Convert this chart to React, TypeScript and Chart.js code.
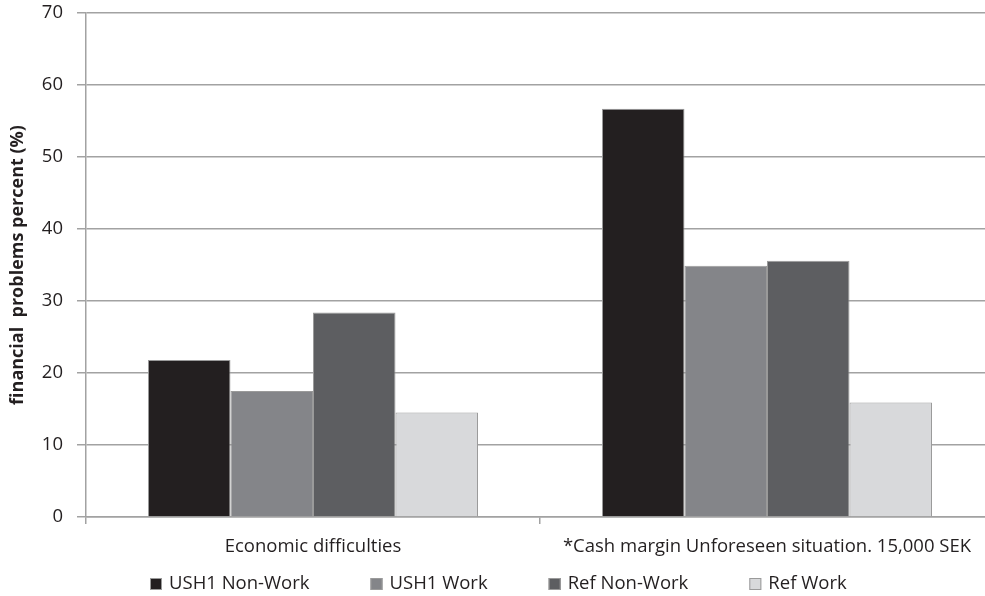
import { useEffect, useRef } from "react";
import { Chart, registerables } from "chart.js";

Chart.register(...registerables);

// Categories along the x axis
const categories = [
  "Economic difficulties",
  "*Cash margin Unforeseen situation. 15,000 SEK",
];

// Series (percent)
const seriesNames = ["USH1 Non-Work", "USH1 Work", "Ref Non-Work", "Ref Work"];
const ush1NonWork = [21.8, 56.7];
const ush1Work = [17.5, 34.9];
const refNonWork = [28.4, 35.6];
const refWork = [14.5, 15.9];
const seriesColors = ["#231f20", "#848589", "#5d5e61", "#d8d9db"];

// Y axis range
const yMin = 0;
const yMax = 70;
const yStep = 10;
const yTitle = "financial  problems percent (%)";

const FONT = "'Open Sans', 'DejaVu Sans', sans-serif";
const TEXT = "#231f20";
const GRID = "#a2a2a2";
const CANVAS_W = 997;
const CANVAS_H = 596;
const LABEL_SIZE = 18.5;

// Legend row drawn under the category labels
const bottomLegend = {
  id: "bottomLegend",
  afterDraw(chart: any) {
    const ctx: CanvasRenderingContext2D = chart.ctx;
    ctx.save();
    ctx.font = `${LABEL_SIZE}px ${FONT}`;
    const box = 12;
    const textGap = 7;
    const itemGap = 61;
    const items = chart.data.datasets.map((ds: any) => ({
      label: ds.label as string,
      color: ds.backgroundColor as string,
      w: ctx.measureText(ds.label).width,
    }));
    const total =
      items.reduce((s: number, it: any) => s + box + textGap + it.w, 0) +
      itemGap * (items.length - 1);
    let x = Math.round(chart.width / 2 - total / 2);
    const y = chart.height - 12;
    ctx.textBaseline = "middle";
    ctx.textAlign = "left";
    for (const it of items) {
      ctx.fillStyle = it.color;
      ctx.fillRect(x, y - box / 2, box, box);
      ctx.strokeStyle = "#9a9a9a";
      ctx.lineWidth = 1;
      ctx.strokeRect(x + 0.5, y - box / 2 + 0.5, box - 1, box - 1);
      ctx.fillStyle = TEXT;
      ctx.fillText(it.label, x + box + textGap, y);
      x += box + textGap + it.w + itemGap;
    }
    ctx.restore();
  },
};

export default function App() {
  const canvasRef = useRef<HTMLCanvasElement | null>(null);

  useEffect(() => {
    const canvas = canvasRef.current;
    if (!canvas) return;
    const values = [ush1NonWork, ush1Work, refNonWork, refWork];
    const chart = new Chart(canvas, {
      type: "bar",
      data: {
        labels: categories,
        datasets: seriesNames.map((name, i) => ({
          label: name,
          data: values[i],
          backgroundColor: seriesColors[i],
          borderColor: "#9a9a9a",
          borderWidth: 1,
          categoryPercentage: 0.727,
          barPercentage: 1.0,
        })),
      },
      options: {
        responsive: false,
        animation: false,
        devicePixelRatio: 1,
        layout: { padding: { left: 0, right: 3, top: 13, bottom: 34 } },
        plugins: {
          legend: { display: false },
          tooltip: { enabled: false },
        },
        scales: {
          x: {
            afterFit: (scale: any) => {
              scale.height = 45;
              scale.paddingLeft = 0;
              scale.paddingRight = 0;
            },
            grid: {
              drawOnChartArea: false,
              drawTicks: true,
              tickLength: 7,
              color: GRID,
              lineWidth: 1.5,
            },
            border: { color: GRID, width: 1.5 },
            ticks: {
              color: TEXT,
              font: { family: FONT, size: LABEL_SIZE },
              padding: 12,
              maxRotation: 0,
              autoSkip: false,
            },
          },
          y: {
            min: yMin,
            max: yMax,
            afterFit: (scale: any) => {
              scale.width = 86;
              scale.paddingTop = 0;
              scale.paddingBottom = 0;
            },
            ticks: {
              stepSize: yStep,
              color: TEXT,
              font: { family: FONT, size: LABEL_SIZE },
              padding: 14,
            },
            grid: {
              color: GRID,
              lineWidth: 1.5,
              tickLength: 9,
            },
            border: { color: GRID, width: 1.5 },
            title: {
              display: true,
              text: yTitle,
              color: TEXT,
              font: { family: FONT, size: 18, weight: "bold" },
              padding: { top: 7, bottom: 0 },
            },
          },
        },
      },
      plugins: [bottomLegend],
    });
    return () => chart.destroy();
  }, []);

  return (
    <div
      style={{
        position: "absolute",
        left: 0,
        top: 0,
        width: 985,
        height: 596,
        overflow: "hidden",
        background: "#ffffff",
      }}
    >
      <canvas
        ref={canvasRef}
        width={CANVAS_W}
        height={CANVAS_H}
        style={{ display: "block" }}
      />
    </div>
  );
}
